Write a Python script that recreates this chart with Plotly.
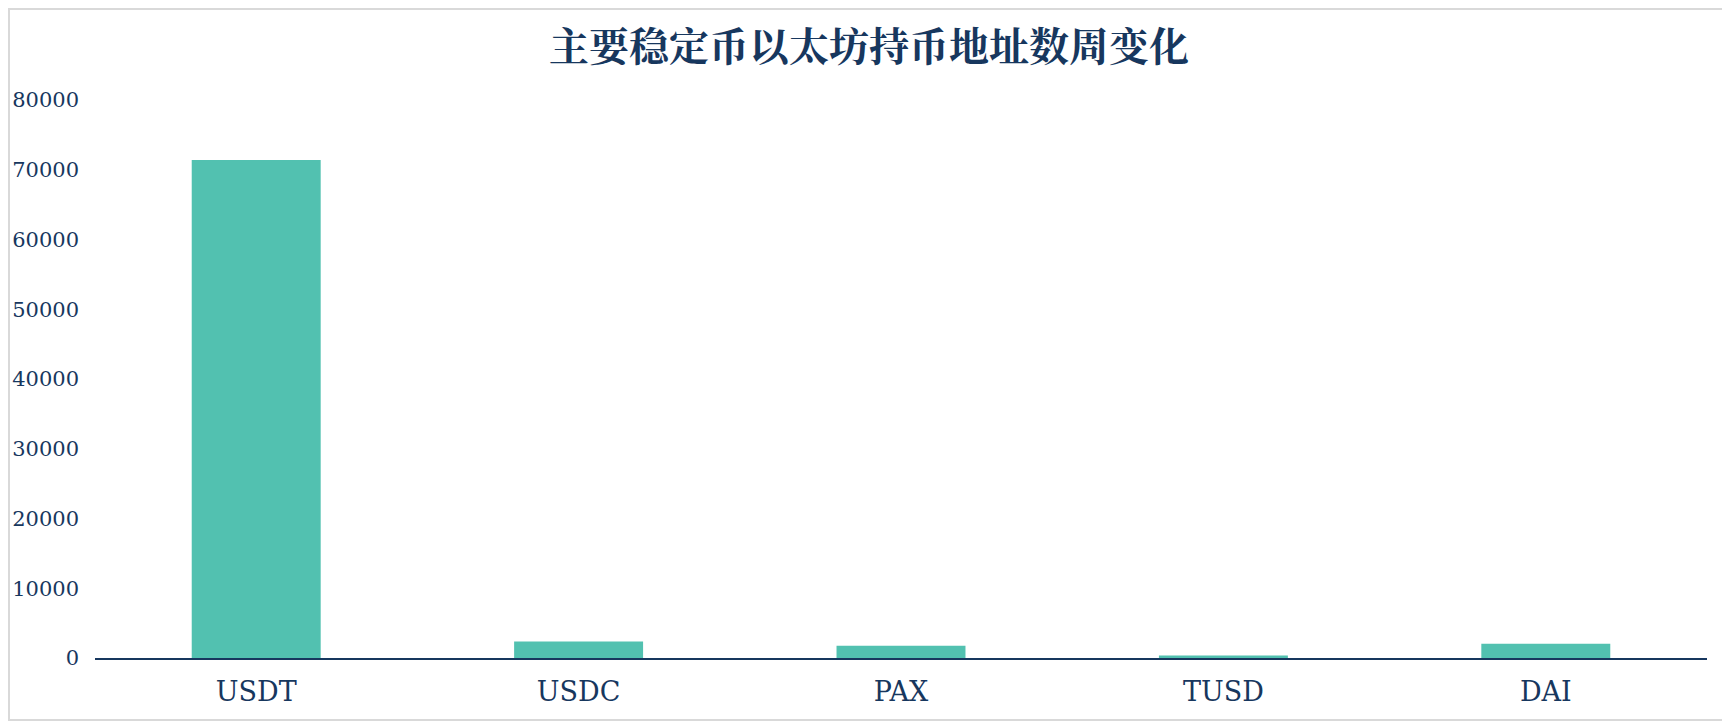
import plotly.graph_objects as go

coins = ["USDT", "USDC", "PAX", "TUSD", "DAI"]
holders_change = [71400, 2350, 1770, 350, 2060]
y_ticks = [0, 10000, 20000, 30000, 40000, 50000, 60000, 70000, 80000]

# the page body has an 8px margin, so the figure is made 8px smaller
# and everything is shifted up-left by that amount
OFF = 8
W, H = 1730 - OFF, 722 - OFF
L, R, T, B = 95 - OFF, 23, 100 - OFF, 64
pw, ph = W - L - R, H - T - B

navy = "#17375E"

fig = go.Figure(go.Bar(
    x=coins,
    y=holders_change,
    marker_color="#52C1B0",
    marker_line_width=0,
))

fig.update_layout(
    width=W, height=H,
    margin=dict(l=L, r=R, t=T, b=B),
    paper_bgcolor="white",
    plot_bgcolor="white",
    bargap=0.6,
    showlegend=False,
    title=dict(
        text="<b>主要稳定币以太坊持币地址数周变化</b>",
        x=0.5, xanchor="center",
        y=1 - (47 - OFF) / H, yanchor="middle",
        font=dict(family="Noto Serif CJK SC, Noto Sans CJK SC", size=40, color=navy),
    ),
    xaxis=dict(
        showline=True, linecolor=navy, linewidth=2,
        showgrid=False, ticks="",
        tickfont=dict(family="DejaVu Serif", size=27, color=navy),
        ticklabelstandoff=9,
        automargin=False,
    ),
    yaxis=dict(
        range=[0, 80000],
        tickvals=y_ticks,
        tickformat="d",
        showgrid=False, zeroline=False, showline=False, ticks="",
        tickfont=dict(family="DejaVu Serif", size=21, color=navy),
        ticklabelstandoff=15,
        automargin=False,
    ),
    # light grey frame around the whole image
    shapes=[dict(
        type="rect", xref="paper", yref="paper",
        x0=-(L - 1) / pw, x1=1 + (R - 2) / pw,
        y0=-(B - 2) / ph, y1=1 + (T - 1) / ph,
        line=dict(color="#D9D9D9", width=2),
    )],
)

fig.write_html("out.html")
